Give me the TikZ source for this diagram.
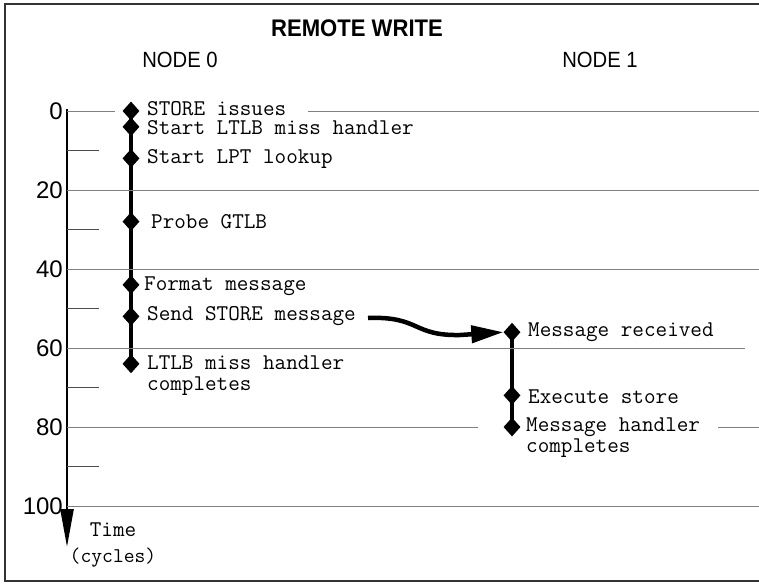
\documentclass[tikz,border=0pt]{standalone}
\usepackage{fontspec}
\setmainfont{Liberation Sans}
\newfontfamily\monofont{Latin Modern Mono}
\newfontfamily\hvfont[FakeStretch=0.92]{Liberation Sans}
\usetikzlibrary{arrows.meta,shapes.geometric}
\begin{document}
\begin{tikzpicture}[x=1pt,y=-1pt,
  gridline/.style={black!50, line width=0.8pt},
  minortick/.style={black!70, line width=0.8pt},
  timeline/.style={line width=4.2pt},
  ev/.style={diamond, fill=black, inner sep=0pt, minimum width=17pt, minimum height=19pt},
  lbl/.style={font=\monofont\fontsize{22.5}{21}\selectfont, anchor=west, inner sep=0pt, align=left},
  num/.style={font=\fontsize{24}{24}\selectfont, anchor=east, inner sep=0pt},
  head/.style={font=\hvfont\fontsize{22}{22}\selectfont, inner sep=0pt},
]
\useasboundingbox (0,0) rectangle (759,583);
% frame
\draw[black!80, line width=1.1pt] (759,4) -- (5,4) -- (5,581) -- (759,581);
% titles
\node[head, font=\hvfont\bfseries\fontsize{24}{24}\selectfont] (title) at (357,28) {REMOTE WRITE};
\node[head] (n0) at (180,60) {NODE 0};
\node[head] (n1) at (600,60) {NODE 1};
% axis
\coordinate (axtop) at (67,109);
\coordinate (axend) at (67,547);
\draw[line width=2.6pt, -{Triangle[length=38pt,width=13pt]}] (axtop) -- (axend);
% axis numbers
\foreach \v in {0,20,40,60,80,100} {
  \node[num] (num\v) at (63,{111+3.95*\v}) {\v};
}
% minor ticks
\foreach \v in {10,30,50,70,90} {
  \draw[minortick] (67,{111+3.95*\v}) -- (99,{111+3.95*\v});
}
% node 0 events
\node[ev] (e0) at (131,111) {};
\node[ev] (e1) at (131,{111+3.95*4}) {};
\node[ev] (e2) at (131,{111+3.95*12}) {};
\node[ev] (e3) at (131,{111+3.95*28}) {};
\node[ev] (e4) at (131,{111+3.95*44}) {};
\node[ev] (e5) at (131,{111+3.95*52}) {};
\node[ev] (e6) at (131,{111+3.95*64}) {};
\draw[timeline] (e0.center) -- (e6.center);
\node[lbl, anchor=base west, text depth=1pt] (l0) at (147,115.5) {STORE issues};
\node[lbl, anchor=base west, text height=12pt] (l1) at (147,134) {Start LTLB miss handler};
\node[lbl] (l2) at (147,159) {Start LPT lookup};
\node[lbl] (l3) at (151,222) {Probe GTLB};
\node[lbl] (l4) at (144,286) {Format message};
\node[lbl] (l5) at (147,316) {Send STORE message};
\node[lbl] (l6) at (147,376) {LTLB miss handler\\completes};
% node 1 events
\node[ev] (f0) at (512,{111+3.95*56}) {};
\node[ev] (f1) at (512,{111+3.95*72}) {};
\node[ev] (f2) at (512,{111+3.95*80}) {};
\draw[timeline] (f0.center) -- (f2.center);
\node[lbl] (m0) at (528,332) {Message received};
\node[lbl] (m1) at (528,397) {Execute store};
\node[lbl] (m2) at (526,438) {Message handler\\completes};
% grid lines
\draw[gridline] (67,111) -- (115,111);
\draw[gridline] (308,111) -- (759,111);
\draw[gridline] (67,190) -- (759,190);
\draw[gridline] (67,269) -- (759,269);
\draw[gridline] (67,348) -- (745,348);
\draw[gridline] (67,427) -- (478,427);
\draw[gridline] (718,427) -- (759,427);
\draw[gridline] (67,506) -- (759,506);
% time label
\node[lbl, anchor=center] (tm) at (113,530) {Time};
\node[lbl, anchor=center, font=\monofont\fontsize{21}{21}\selectfont] (cy) at (113,558) {(cycles)};
% message arrow
\coordinate (msgstart) at (368,318);
\draw[line width=4.5pt, -{Triangle[length=32pt,width=17pt]}] (msgstart) .. controls (420,316) and (412,336) .. (460,335) -- (f0.west);
\end{tikzpicture}
\end{document}
